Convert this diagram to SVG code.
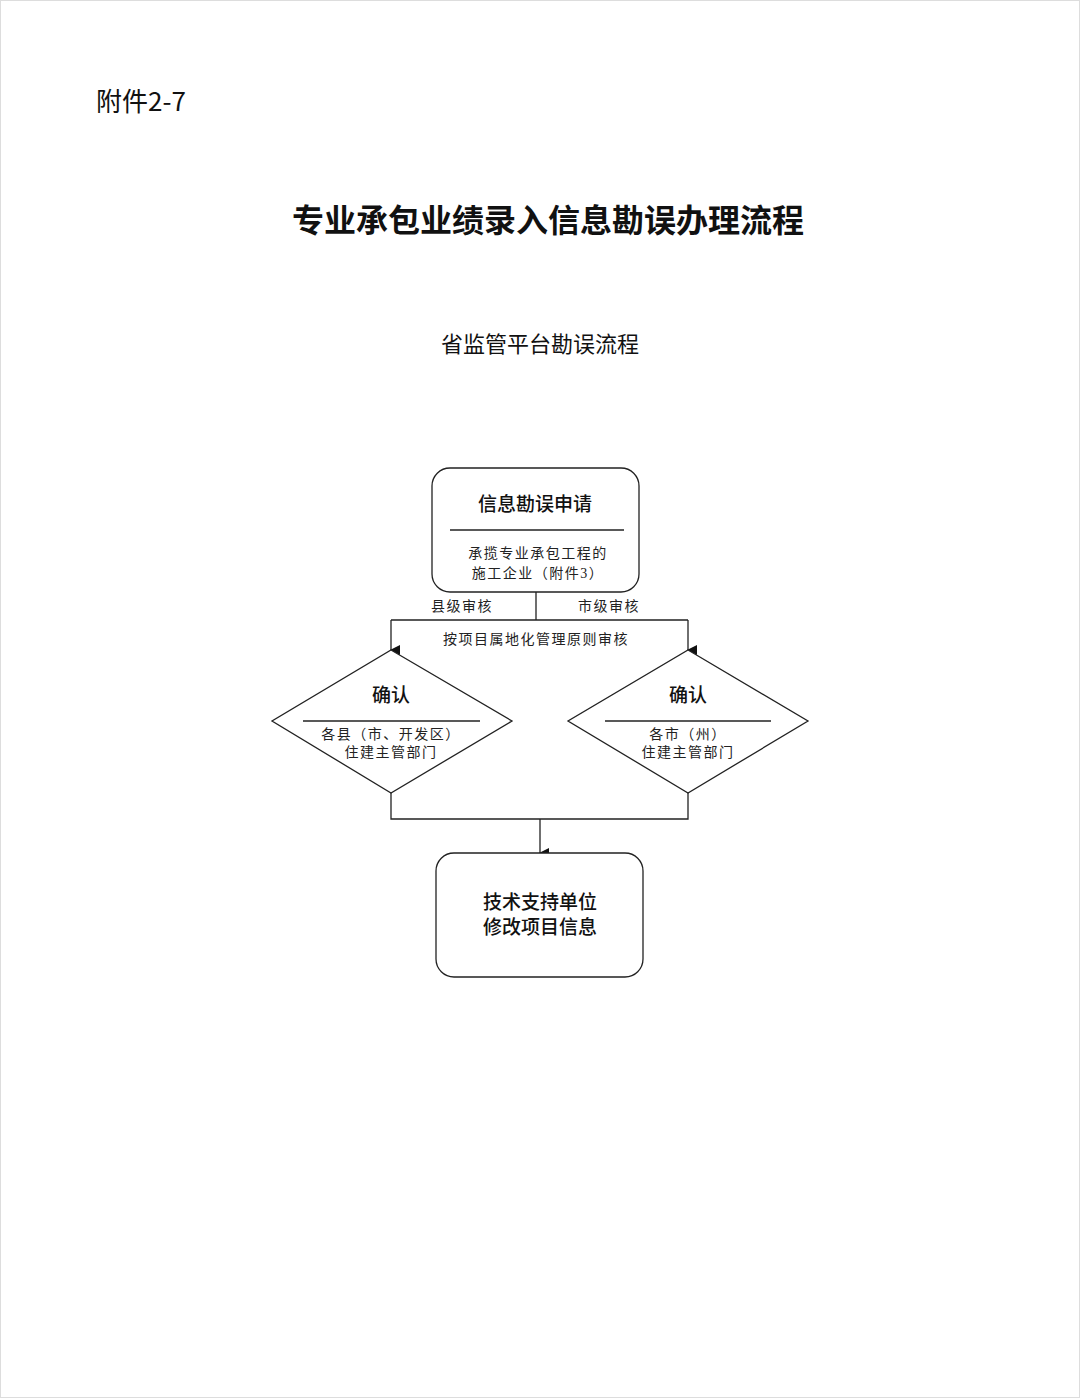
<svg xmlns="http://www.w3.org/2000/svg" width="1080" height="1398" viewBox="0 0 1080 1398">
<style>
.s{fill:#fff;stroke:#222;stroke-width:1.3}
.l{fill:none;stroke:#222;stroke-width:1.3}
.h{font-family:"Noto Sans CJK SC","Noto Sans",sans-serif;fill:#111}
.m{font-family:"Liberation Serif","Noto Sans CJK SC",serif;fill:#222;font-size:14px;letter-spacing:1.5px}
</style>
<defs><marker id="a" markerWidth="10" markerHeight="10" refX="5" refY="9" orient="auto" markerUnits="userSpaceOnUse" viewBox="0 0 10 10"><path d="M0,0 L10,0 L5,10 Z" fill="#111"/></marker></defs>
<rect width="1080" height="1398" fill="#fff"/>
<rect x="0.5" y="0.5" width="1079" height="1397" fill="none" stroke="#ddd"/>
<text class="h" x="96" y="111" font-size="26">附件2-7</text>
<text class="h" x="548" y="232" font-size="32" font-weight="bold" text-anchor="middle" style="font-family:'Noto Sans CJK SC',serif">专业承包业绩录入信息勘误办理流程</text>
<text class="h" x="540" y="352" font-size="22" text-anchor="middle">省监管平台勘误流程</text>
<g id="connectors">
<path class="l" d="M536,592 V620 M391,620 H688"/>
<path class="l" d="M391,620 V650" marker-end="url(#a)"/>
<path class="l" d="M688,620 V650" marker-end="url(#a)"/>
<path class="l" d="M391,793 V819 H688 V793"/>
<path class="l" d="M540,819 V853" marker-end="url(#a)"/>
<text class="m" x="462" y="611" text-anchor="middle">县级审核</text>
<text class="m" x="609" y="611" text-anchor="middle">市级审核</text>
<text class="m" x="536" y="644" text-anchor="middle">按项目属地化管理原则审核</text>
</g>
<g id="apply">
<rect class="s" x="432" y="468" width="207" height="124" rx="18"/>
<text class="h" x="535" y="511" font-size="19" font-weight="500" text-anchor="middle">信息勘误申请</text>
<line class="l" x1="450" y1="530" x2="624" y2="530"/>
<text class="m" x="538" y="558" text-anchor="middle">承揽专业承包工程的</text>
<text class="m" x="538" y="578" text-anchor="middle">施工企业（附件3）</text>
</g>
<g id="county">
<polygon class="s" points="391,650 512,721 391,793 272,721"/>
<text class="h" x="391" y="702" font-size="19" font-weight="500" text-anchor="middle">确认</text>
<line class="l" x1="303" y1="721" x2="480" y2="721"/>
<text class="m" font-size="13" x="391" y="739" text-anchor="middle">各县（市、开发区）</text>
<text class="m" font-size="13" x="391" y="757" text-anchor="middle">住建主管部门</text>
</g>
<g id="city">
<polygon class="s" points="688,650 808,721 688,793 568,721"/>
<text class="h" x="688" y="702" font-size="19" font-weight="500" text-anchor="middle">确认</text>
<line class="l" x1="605" y1="721" x2="771" y2="721"/>
<text class="m" font-size="13" x="688" y="739" text-anchor="middle">各市（州）</text>
<text class="m" font-size="13" x="688" y="757" text-anchor="middle">住建主管部门</text>
</g>
<g id="tech">
<rect class="s" x="436" y="853" width="207" height="124" rx="18"/>
<text class="h" x="540" y="909" font-size="19" font-weight="500" text-anchor="middle">技术支持单位</text>
<text class="h" x="540" y="934" font-size="19" font-weight="500" text-anchor="middle">修改项目信息</text>
</g>
</svg>
